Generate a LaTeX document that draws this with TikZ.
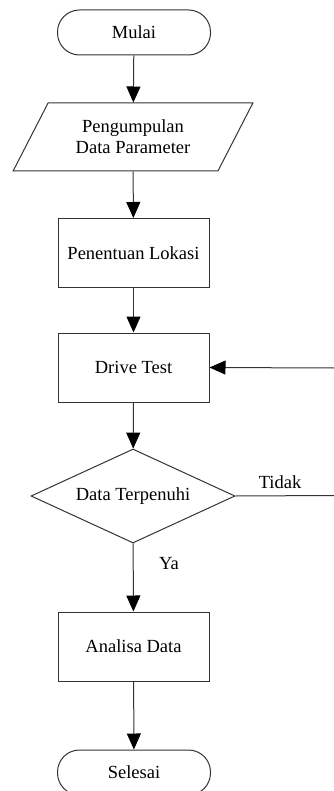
\documentclass[tikz,border=0pt]{standalone}
\usepackage{fontspec}
\setmainfont{Liberation Serif}
\usetikzlibrary{shapes.geometric,arrows.meta}
\begin{document}
\begin{tikzpicture}[x=1pt,y=-1pt,
  font=\fontsize{18.5}{21}\selectfont,
  line width=1pt,
  lc/.style={draw=black!80},
  terminal/.style={lc, rectangle, rounded corners=22pt, minimum width=153pt, minimum height=45pt, inner sep=0pt, align=center},
  procbox/.style={lc, rectangle, minimum width=151pt, minimum height=69pt, inner sep=0pt, align=center},
  iobox/.style={lc, trapezium, trapezium left angle=55.3, trapezium right angle=124.7, trapezium stretches=true, minimum width=240pt, minimum height=68pt, inner sep=0pt, align=center},
  decision/.style={lc, diamond, aspect=2.17, minimum width=204pt, minimum height=94pt, inner sep=0pt, align=center},
  flow/.style={lc, -{Triangle[width=14pt,length=16pt,color=black,fill=black]}},
  lbl/.style={inner sep=0pt}
]
\useasboundingbox (0,0) rectangle (333,791);
\node[terminal] (mulai) at (134,32.5) {Mulai};
\node[iobox] (param) at (133,137) {Pengumpulan\\Data Parameter};
\node[procbox] (lokasi) at (133.5,253) {Penentuan Lokasi};
\node[procbox] (drive) at (133.5,367.5) {Drive Test};
\node[decision] (dec) at (133,496) {Data Terpenuhi};
\node[procbox] (analisa) at (133.5,646.5) {Analisa Data};
\node[terminal] (selesai) at (134,772.5) {Selesai};
\coordinate (rin) at (334,368);
\coordinate (rout) at (334,495.5);
\draw[flow] (mulai) -- (param);
\draw[flow] (param) -- (lokasi);
\draw[flow] (lokasi) -- (drive);
\draw[flow] (drive) -- (dec);
\draw[flow] (dec) -- (analisa);
\draw[flow] (analisa) -- (selesai);
\draw[flow] (rin) -- (drive.east);
\draw[lc] (dec.east) -- (rout);
\node[lbl] (tidak) at (280,482) {Tidak};
\node[lbl] (ya) at (169,564) {Ya};
\end{tikzpicture}
\end{document}
